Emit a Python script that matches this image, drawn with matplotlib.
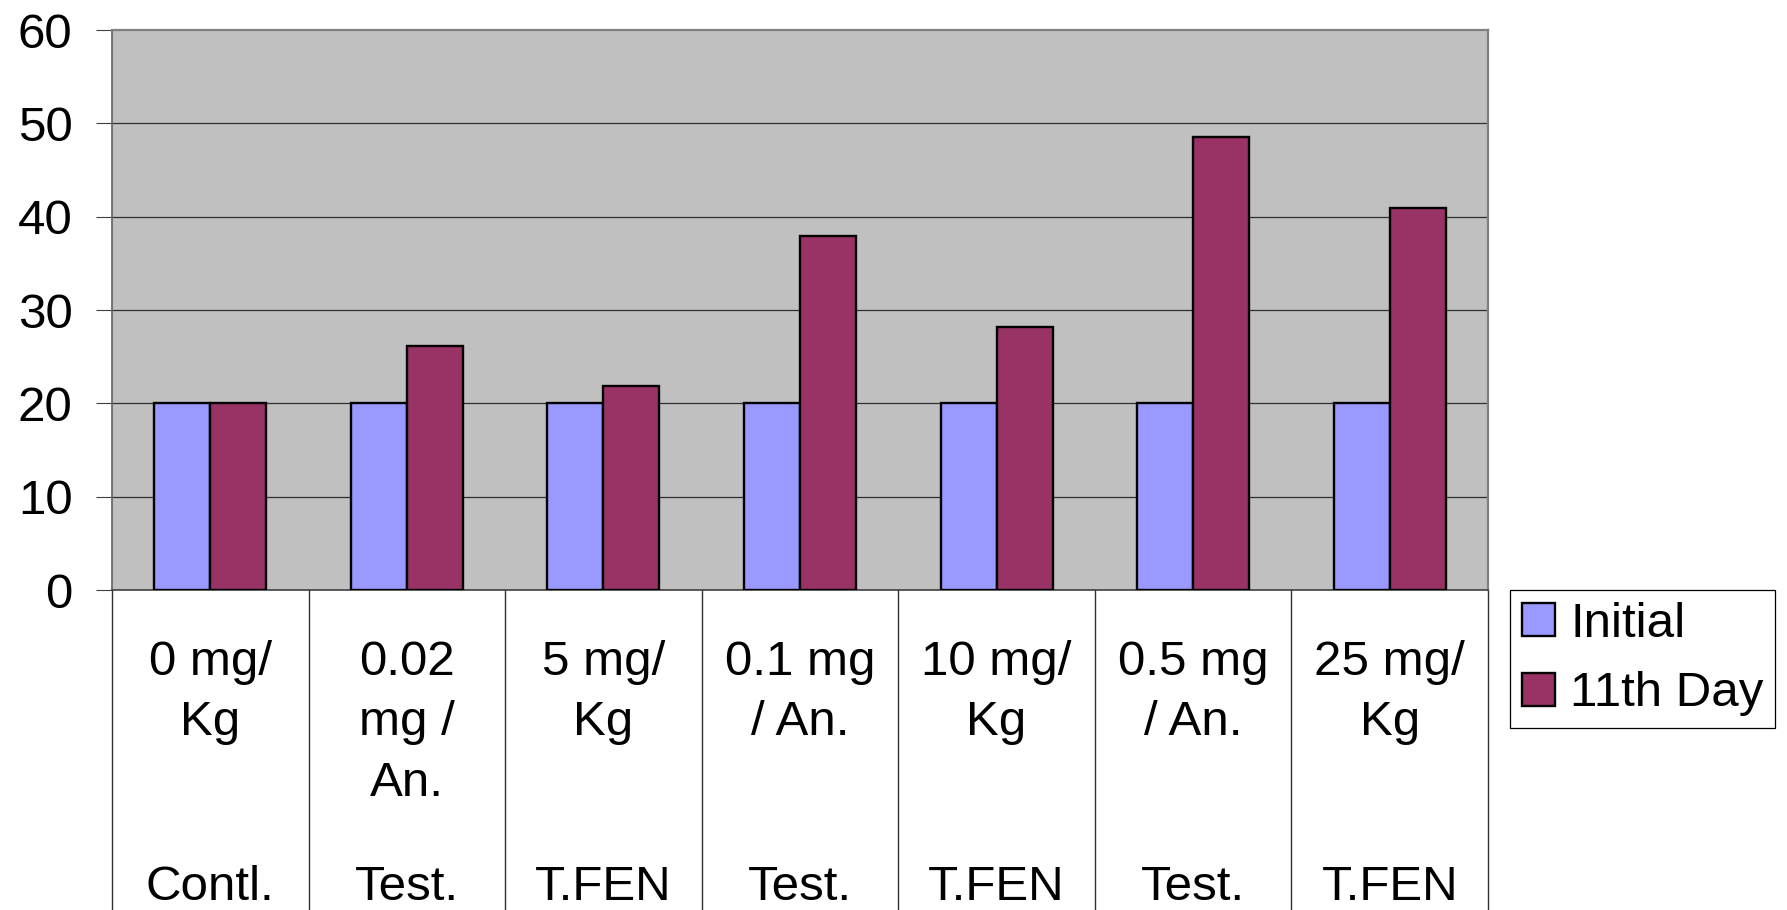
import matplotlib
matplotlib.use("Agg")
import matplotlib.pyplot as plt
import matplotlib.transforms as mtransforms
from matplotlib.patches import Patch
import numpy as np

plt.rcParams['font.family'] = ['Liberation Sans', 'DejaVu Sans']

dose_labels = ["0 mg/\nKg", "0.02\nmg /\nAn.", "5 mg/\nKg", "0.1 mg\n/ An.",
               "10 mg/\nKg", "0.5 mg\n/ An.", "25 mg/\nKg"]
group_labels = ["Contl.", "Test.", "T.FEN", "Test.", "T.FEN", "Test.", "T.FEN"]
initial = [20, 20, 20, 20, 20, 20, 20]
day11 = [20, 26.1, 21.9, 37.9, 28.2, 48.5, 40.9]
series_names = ["Initial", "11th Day"]
colors = ["#9999FF", "#993366"]
yticks = [0, 10, 20, 30, 40, 50, 60]

W, H, DPI = 1787, 910, 100
FS = 35.5
fig = plt.figure(figsize=(W / DPI, H / DPI), dpi=DPI)
L, R, T, B = 112, 1488, 30, 590
ax = fig.add_axes([L / W, 1 - B / H, (R - L) / W, (B - T) / H])
ax.set_facecolor("#C0C0C0")

n = len(dose_labels)
x = np.arange(n)
bw = 0.285
ax.bar(x - bw / 2, initial, bw, color=colors[0], edgecolor="black", linewidth=1.7, zorder=3)
ax.bar(x + bw / 2, day11, bw, color=colors[1], edgecolor="black", linewidth=1.7, zorder=3)

ax.set_xlim(-0.5, n - 0.5)
ax.set_ylim(0, 60)
ax.set_yticks(yticks)
ax.set_yticklabels([str(v) for v in yticks], fontsize=FS)
ax.tick_params(axis='y', length=11.5, width=0.8, pad=17, color="#404040")
ax.set_xticks([])
for v in yticks[1:-1]:
    ax.axhline(v, color="#303030", linewidth=0.9, zorder=1)

for s in ["top", "right"]:
    ax.spines[s].set_color("#808080")
    ax.spines[s].set_linewidth(1.6)
ax.spines["left"].set_color("#606060")
ax.spines["left"].set_linewidth(1.2)
ax.spines["bottom"].set_color("#404040")
ax.spines["bottom"].set_linewidth(1.2)

# category table below the axis
trans = mtransforms.blended_transform_factory(ax.transData, ax.transAxes)
for b in np.arange(n + 1) - 0.5:
    ax.plot([b, b], [0, -0.7], transform=trans, color="#303030", linewidth=1.0,
            clip_on=False)

tpx = mtransforms.blended_transform_factory(ax.transData, fig.transFigure)
for i in range(n):
    ax.text(x[i], 1 - 640 / H, dose_labels[i], transform=tpx, ha="center", va="top",
            fontsize=FS, linespacing=1.44, clip_on=False)
    ax.text(x[i], 1 - 900 / H, group_labels[i], transform=tpx, ha="center",
            va="baseline", fontsize=FS, clip_on=False)

handles = [Patch(facecolor=colors[0], edgecolor="black", linewidth=1.7),
           Patch(facecolor=colors[1], edgecolor="black", linewidth=1.7)]
leg = fig.legend(handles, series_names, loc="upper left",
                 bbox_to_anchor=(1510 / W, 1 - 590 / H), borderaxespad=0,
                 fontsize=FS, handlelength=0.68, handleheight=0.66,
                 handletextpad=0.3, borderpad=0.24, labelspacing=0.5,
                 fancybox=False, framealpha=1, edgecolor="black")
leg.get_frame().set_linewidth(0.9)

fig.savefig("out.png", dpi=DPI)
